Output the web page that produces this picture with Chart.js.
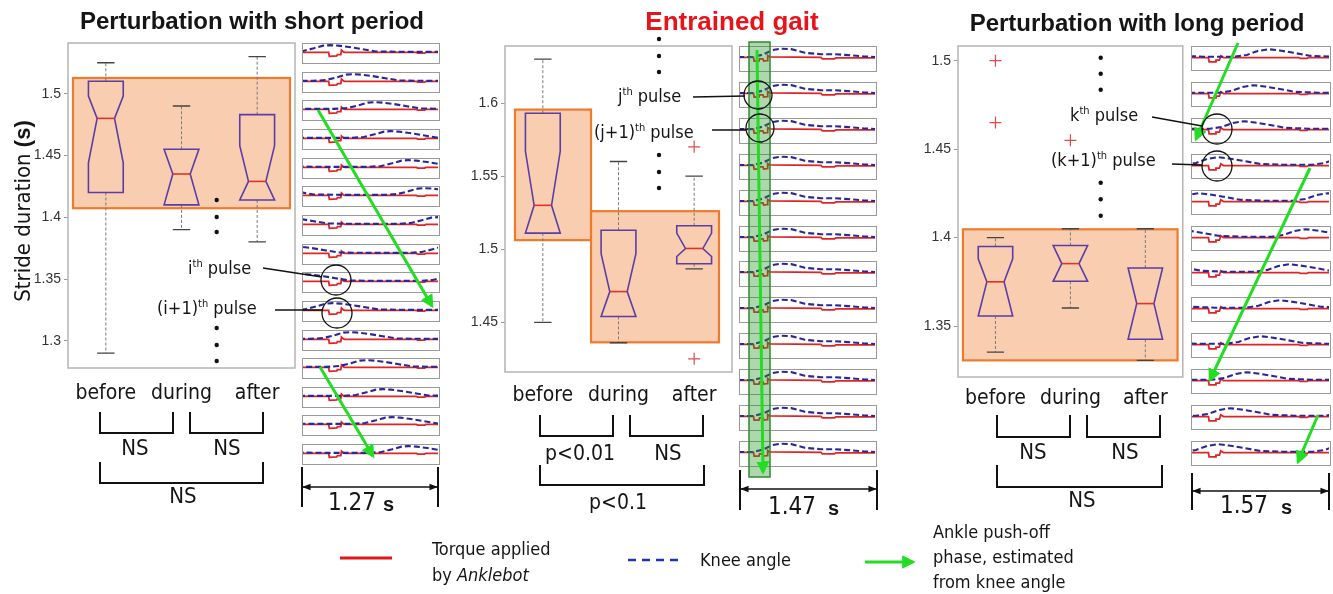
<!DOCTYPE html>
<html>
<head>
<meta charset="utf-8">
<script src="https://cdn.jsdelivr.net/npm/chart.js@4.4.1/dist/chart.umd.min.js"></script>
<style>
  body { margin: 0; width: 1333px; height: 594px; position: relative; overflow: hidden; background: #fff;
         font-family: "DejaVu Sans Condensed", "DejaVu Sans", sans-serif; color: #151515; }
  canvas.box { position: absolute; }
  .thumb { position: absolute; border: 1.5px solid #9a9a9a; box-sizing: border-box; background: #fff; }
  .thumb canvas { display: block; }
  .title { position: absolute; transform: translate(-50%, -50%); white-space: nowrap; line-height: 1;
           font-family: "Liberation Sans", Arial, sans-serif; font-weight: bold; font-size: 24px; }
  .c { position: absolute; transform: translate(-50%, -50%); white-space: nowrap; line-height: 1; font-size: 22px; }
  .l { position: absolute; transform: translateY(-50%); white-space: nowrap; line-height: 1; font-size: 18px; }
  .th { font-size: 11px; vertical-align: 7px; }
  .sb { font-size: 24px; }
  .bs { font-family: "Liberation Sans", Arial, sans-serif; font-weight: bold; font-size: 20px; }
  svg { position: absolute; left: 0; top: 0; }
</style>
</head>
<body>

<canvas class="box" id="boxShort" width="300" height="380" style="left:0;top:30px"></canvas>
<canvas class="box" id="boxEnt" width="300" height="380" style="left:440px;top:30px"></canvas>
<canvas class="box" id="boxLong" width="300" height="380" style="left:890px;top:30px"></canvas>
<div id="thumbs"></div>

<svg width="1333" height="594" viewBox="0 0 1333 594">
  <defs>
    <marker id="ga" viewBox="0 0 10 10" refX="8" refY="5" markerWidth="4.5" markerHeight="4.5" orient="auto">
      <path d="M0,0 L10,5 L0,10 z" fill="#22dd22"/>
    </marker>
    <marker id="ba" viewBox="0 0 10 10" refX="9" refY="5" markerWidth="6" markerHeight="6" orient="auto-start-reverse">
      <path d="M0,1 L10,5 L0,9 z" fill="#111"/>
    </marker>
  </defs>
  <!-- entrained column -->
  <rect x="749" y="42" width="21" height="435" fill="rgba(40,150,40,0.38)" stroke="#2e8b2e" stroke-width="1.5"/>

  <g stroke="#22dd22" stroke-width="3" fill="none" marker-end="url(#ga)">
    <line x1="318" y1="110" x2="432" y2="306"/>
    <line x1="320" y1="367" x2="373" y2="456"/>
    <line x1="757" y1="50" x2="763" y2="472"/>
    <line x1="1238" y1="43" x2="1196" y2="139"/>
    <line x1="1310" y1="168" x2="1210" y2="380"/>
    <line x1="1318" y1="415" x2="1298" y2="462"/>
    <line x1="865" y1="562" x2="913" y2="562"/>
  </g>

  <g stroke="#111" stroke-width="1.3" fill="none">
    <circle cx="336" cy="280" r="15"/><circle cx="337" cy="313" r="15"/>
    <circle cx="758" cy="95" r="14"/><circle cx="760" cy="128" r="14"/>
    <circle cx="1217" cy="129" r="15"/><circle cx="1217" cy="166" r="15"/>
    <line x1="263" y1="268" x2="322" y2="277"/><line x1="275" y1="310" x2="322" y2="310"/>
    <line x1="693" y1="97" x2="745" y2="96"/><line x1="712" y1="130" x2="746" y2="130"/>
    <line x1="1152" y1="117" x2="1202" y2="126"/><line x1="1172" y1="164" x2="1202" y2="165"/>
  </g>

  <g fill="#111">
    <circle cx="216.7" cy="200" r="2.2"/><circle cx="216.7" cy="217" r="2.2"/><circle cx="216.7" cy="232" r="2.2"/>
    <circle cx="216.7" cy="328" r="2.2"/><circle cx="216.7" cy="345" r="2.2"/><circle cx="216.7" cy="361" r="2.2"/>
    <circle cx="659" cy="39" r="2.2"/><circle cx="659" cy="56" r="2.2"/><circle cx="659" cy="72" r="2.2"/>
    <circle cx="659" cy="155" r="2.2"/><circle cx="659" cy="172" r="2.2"/><circle cx="659" cy="188" r="2.2"/>
    <circle cx="1100.7" cy="57.7" r="2.2"/><circle cx="1100.7" cy="73.7" r="2.2"/><circle cx="1100.7" cy="89.7" r="2.2"/>
    <circle cx="1100.7" cy="182.7" r="2.2"/><circle cx="1100.7" cy="199.3" r="2.2"/><circle cx="1100.7" cy="215.7" r="2.2"/>
  </g>

  <g stroke="#111" stroke-width="2" fill="none">
    <polyline points="100,412 100,433 173,433 173,412"/>
    <polyline points="190,412 190,433 263,433 263,412"/>
    <polyline points="100,462 100,483 263,483 263,462"/>
    <polyline points="540,415 540,436 613,436 613,415"/>
    <polyline points="630,415 630,436 703,436 703,415"/>
    <polyline points="540,465 540,485 704,485 704,465"/>
    <polyline points="997,415 997,437 1070,437 1070,415"/>
    <polyline points="1087,415 1087,437 1160,437 1160,415"/>
    <polyline points="997,465 997,487 1162,487 1162,465"/>
    <line x1="302" y1="467" x2="302" y2="507"/><line x1="438" y1="467" x2="438" y2="507"/>
    <line x1="740" y1="470" x2="740" y2="510"/><line x1="877" y1="470" x2="877" y2="510"/>
    <line x1="1192" y1="473" x2="1192" y2="510"/><line x1="1329" y1="473" x2="1329" y2="510"/>
  </g>
  <g stroke="#111" stroke-width="1.4" marker-start="url(#ba)" marker-end="url(#ba)">
    <line x1="303" y1="487" x2="437" y2="487"/>
    <line x1="741" y1="489" x2="876" y2="489"/>
    <line x1="1193" y1="491" x2="1328" y2="491"/>
  </g>

  <line x1="340" y1="558" x2="392" y2="558" stroke="#e01818" stroke-width="3"/>
  <line x1="628" y1="560" x2="680" y2="560" stroke="#2030c0" stroke-width="2.5" stroke-dasharray="8,6"/>
</svg>

<div class="title" style="left:252px;top:21px">Perturbation with short period</div>
<div class="title" style="left:732px;top:21px;color:#e8141c;font-size:26px">Entrained gait</div>
<div class="title" style="left:1137px;top:23px">Perturbation with long period</div>

<div class="c" style="left:23px;top:211px;transform:translate(-50%,-50%) rotate(-90deg)">Stride duration <b style="font-family:'Liberation Sans',Arial,sans-serif">(s)</b></div>

<div class="l" style="left:188px;top:267px">i<span class="th">th</span> pulse</div>
<div class="l" style="left:157px;top:307px">(i+1)<span class="th">th</span> pulse</div>
<div class="l" style="left:618px;top:95px">j<span class="th">th</span> pulse</div>
<div class="l" style="left:594px;top:131px">(j+1)<span class="th">th</span> pulse</div>
<div class="l" style="left:1070px;top:114px">k<span class="th">th</span> pulse</div>
<div class="l" style="left:1051px;top:159px">(k+1)<span class="th">th</span> pulse</div>

<div class="c" style="left:135px;top:448px">NS</div>
<div class="c" style="left:227px;top:448px">NS</div>
<div class="c" style="left:183px;top:496px">NS</div>
<div class="c" style="left:580px;top:453px;font-size:21px">p&lt;0.01</div>
<div class="c" style="left:668px;top:453px">NS</div>
<div class="c" style="left:618px;top:502px;font-size:21px">p&lt;0.1</div>
<div class="c" style="left:1033px;top:452px">NS</div>
<div class="c" style="left:1125px;top:452px">NS</div>
<div class="c" style="left:1082px;top:500px">NS</div>

<div class="l sb" style="left:328px;top:502px">1.27</div><div class="l bs" style="left:383px;top:504px">s</div>
<div class="l sb" style="left:768px;top:506px">1.47</div><div class="l bs" style="left:828px;top:508px">s</div>
<div class="l sb" style="left:1220px;top:505px">1.57</div><div class="l bs" style="left:1281px;top:507px">s</div>

<div class="l" style="left:432px;top:549px">Torque applied</div>
<div class="l" style="left:432px;top:575px">by <i>Anklebot</i></div>
<div class="l" style="left:700px;top:560px">Knee angle</div>
<div class="l" style="left:933px;top:532px">Ankle push-off</div>
<div class="l" style="left:933px;top:557px">phase, estimated</div>
<div class="l" style="left:933px;top:582px">from knee angle</div>

<script>
const categories = ['before', 'during', 'after'];

// stride duration (s), perturbation with short period
const shortTicks = [1.3, 1.35, 1.4, 1.45, 1.5];
const shortWhiskHi = [1.525, 1.49, 1.53];
const shortQ3 = [1.51, 1.455, 1.483];
const shortNotchHi = [1.498, 1.46, 1.458];
const shortMedian = [1.48, 1.435, 1.429];
const shortNotchLo = [1.444, 1.40, 1.40];
const shortQ1 = [1.42, 1.41, 1.414];
const shortWhiskLo = [1.29, 1.39, 1.38];
const shortOutCat = [];
const shortOutVal = [];

// entrained gait
const entTicks = [1.45, 1.5, 1.55, 1.6];
const entWhiskHi = [1.63, 1.56, 1.55];
const entQ3 = [1.593, 1.513, 1.516];
const entNotchHi = [1.567, 1.497, 1.511];
const entMedian = [1.53, 1.471, 1.5005];
const entNotchLo = [1.49, 1.44, 1.495];
const entQ1 = [1.511, 1.454, 1.49];
const entWhiskLo = [1.45, 1.436, 1.4866];
const entOutCat = [3, 3];
const entOutVal = [1.57, 1.425];

// perturbation with long period
const longTicks = [1.35, 1.4, 1.45, 1.5];
const longWhiskHi = [1.4, 1.405, 1.405];
const longQ3 = [1.395, 1.3955, 1.3828];
const longNotchHi = [1.388, 1.40, 1.40];
const longMedian = [1.375, 1.3853, 1.3627];
const longNotchLo = [1.35, 1.37, 1.34];
const longQ1 = [1.3557, 1.3753, 1.3425];
const longWhiskLo = [1.3353, 1.3602, 1.3306];
const longOutCat = [1, 1, 2];
const longOutVal = [1.5, 1.465, 1.455];

// knee angle hump (offset from peak, in thumbnail widths) and torque trace, per panel
const kneeDxShort = [-0.58, -0.3, -0.2, -0.12, -0.05, 0, 0.06, 0.14, 0.24, 0.34, 0.58];
const kneeYShort = [0.5, 0.5, 1.5, 4.5, 7.5, 8, 7.5, 6, 3.5, 1, 0.5];
const kneePeakShort = [0.2, 0.37, 0.53, 0.65, 0.78, 0.9, 1.0, 1.08, 0.0, 0.22, 0.35, 0.47, 0.59, 0.66, 0.78];
const torqueXShort = [0, 0.19, 0.195, 0.25, 0.255, 0.28, 0.285, 0.3, 0.31, 0.84, 0.85, 0.9, 0.91, 1];
const torqueYShort = [0, 0, -4.5, -4, -2.5, -2.5, 2.5, 0.5, 0, 0, -0.8, -0.8, 0, 0];

const kneeDxEnt = [-0.3, -0.2, -0.13, -0.06, 0, 0.08, 0.18, 0.3, 0.4, 0.5, 0.62, 0.7];
const kneeYEnt = [0.5, 0.5, 3, 8, 9.5, 9, 5, 3.5, 3.5, 2.5, 1, 0.5];
const kneePeakEnt = [0.3, 0.3, 0.3, 0.3, 0.3, 0.3, 0.3, 0.3, 0.3, 0.3, 0.3, 0.3];
const torqueXEnt = [0, 0.1, 0.105, 0.14, 0.145, 0.17, 0.175, 0.2, 0.205, 0.22, 0.6, 0.61, 0.7, 0.71, 1];
const torqueYEnt = [0, 0, -4, -4, -1.5, -1.5, -4, -3.5, 2, 0.5, 0, -1.5, -1.5, -0.5, -0.5];

const kneeDxLong = [-0.47, -0.25, -0.16, -0.08, 0, 0.08, 0.18, 0.3, 0.47];
const kneeYLong = [1, 1, 3, 7.5, 9.5, 8, 5.5, 2, 1];
const kneePeakLong = [0.56, 0.45, 0.38, 0.19, 0.05, 0.83, 0.71, 0.64, 0.5, 0.4, 0.28, 0.19];
const torqueXLong = [0, 0.12, 0.125, 0.17, 0.175, 0.2, 0.21, 0.23, 0.78, 0.79, 0.84, 0.85, 1];
const torqueYLong = [0, 0, -5, -5, -3, -3, 2, 0, 0, -1, -1, 0, 0];

const LABEL_FONT = '"DejaVu Sans Condensed", "DejaVu Sans", sans-serif';

function boxPlugin(s) {
  return {
    id: 'notchedBoxes',
    beforeDatasetsDraw(chart) {
      const { ctx, chartArea: a } = chart;
      const xs = chart.scales.x, ys = chart.scales.y;
      ctx.save();
      // highlighted groups
      s.highlight.forEach(h => {
        const x0 = xs.getPixelForValue(h[0]), x1 = xs.getPixelForValue(h[1]);
        const y0 = ys.getPixelForValue(h[3]), y1 = ys.getPixelForValue(h[2]);
        ctx.fillStyle = '#f9cdb0';
        ctx.fillRect(x0, y0, x1 - x0, y1 - y0);
        ctx.strokeStyle = '#ee7a2e';
        ctx.lineWidth = 2.2;
        ctx.strokeRect(x0, y0, x1 - x0, y1 - y0);
      });
      categories.forEach((c, i) => {
        const cx = xs.getPixelForValue(i + 1);
        const hw = xs.getPixelForValue(i + 1.23) - cx;
        const cw = hw * 0.5, nw = hw * 0.5;
        const py = v => ys.getPixelForValue(v);
        // whiskers
        ctx.strokeStyle = '#7a7a7a';
        ctx.lineWidth = 1;
        ctx.setLineDash([3, 2]);
        ctx.beginPath();
        ctx.moveTo(cx, py(s.q3[i])); ctx.lineTo(cx, py(s.whiskHi[i]));
        ctx.moveTo(cx, py(s.q1[i])); ctx.lineTo(cx, py(s.whiskLo[i]));
        ctx.stroke();
        ctx.setLineDash([]);
        ctx.strokeStyle = '#444';
        ctx.lineWidth = 1.3;
        ctx.beginPath();
        ctx.moveTo(cx - cw, py(s.whiskHi[i])); ctx.lineTo(cx + cw, py(s.whiskHi[i]));
        ctx.moveTo(cx - cw, py(s.whiskLo[i])); ctx.lineTo(cx + cw, py(s.whiskLo[i]));
        ctx.stroke();
        // notched box
        const nHi = Math.min(s.notchHi[i], s.q3[i]);
        const nLo = Math.max(s.notchLo[i], s.q1[i]);
        ctx.strokeStyle = '#5a3ea6';
        ctx.lineWidth = 1.6;
        ctx.beginPath();
        ctx.moveTo(cx - hw, py(s.q3[i]));
        ctx.lineTo(cx + hw, py(s.q3[i]));
        ctx.lineTo(cx + hw, py(nHi));
        ctx.lineTo(cx + nw, py(s.median[i]));
        ctx.lineTo(cx + hw, py(nLo));
        ctx.lineTo(cx + hw, py(s.q1[i]));
        ctx.lineTo(cx - hw, py(s.q1[i]));
        ctx.lineTo(cx - hw, py(nLo));
        ctx.lineTo(cx - nw, py(s.median[i]));
        ctx.lineTo(cx - hw, py(nHi));
        ctx.closePath();
        ctx.stroke();
        ctx.strokeStyle = '#e2302a';
        ctx.lineWidth = 1.6;
        ctx.beginPath();
        ctx.moveTo(cx - nw, py(s.median[i])); ctx.lineTo(cx + nw, py(s.median[i]));
        ctx.stroke();
      });
      // axes frame
      ctx.strokeStyle = '#b4b4b4';
      ctx.lineWidth = 1.5;
      ctx.strokeRect(a.left, a.top, a.right - a.left, a.bottom - a.top);
      ctx.restore();
    }
  };
}

function boxChart(id, s) {
  new Chart(document.getElementById(id), {
    type: 'scatter',
    data: {
      datasets: [{
        data: s.outCat.map((c, i) => ({ x: c, y: s.outVal[i] })),
        pointStyle: 'cross', pointRadius: 6, borderColor: '#e24a4a', borderWidth: 1.2
      }]
    },
    options: {
      responsive: false, animation: false, events: [],
      layout: { padding: { top: s.padTop, right: s.padRight, left: 0, bottom: 0 } },
      plugins: { legend: { display: false }, tooltip: { enabled: false } },
      scales: {
        x: {
          type: 'linear', min: 0.5, max: 3.5,
          grid: { display: false }, border: { display: false },
          afterBuildTicks: ax => { ax.ticks = categories.map((c, i) => ({ value: i + 1 })); },
          afterFit: ax => { ax.height = s.xH; },
          ticks: { callback: v => categories[v - 1], font: { family: LABEL_FONT, size: 21 }, color: '#151515',
                   padding: s.xPad, maxRotation: 0, autoSkip: false }
        },
        y: {
          min: s.min, max: s.max,
          afterBuildTicks: ax => { ax.ticks = s.ticks.map(v => ({ value: v })); },
          afterFit: ax => { ax.width = s.yW; },
          grid: { drawOnChartArea: false, tickLength: 4, color: '#999' },
          border: { display: false },
          ticks: { callback: v => String(+v.toFixed(2)), font: { family: '"Liberation Sans", Arial, sans-serif', size: 14 },
                   color: '#333', padding: 3 }
        }
      }
    },
    plugins: [boxPlugin(s)]
  });
}

boxChart('boxShort', {
  min: 1.278, max: 1.541, ticks: shortTicks, yW: 68, padTop: 13, padRight: 5, xH: 42, xPad: 5,
  whiskHi: shortWhiskHi, q3: shortQ3, notchHi: shortNotchHi, median: shortMedian, notchLo: shortNotchLo,
  q1: shortQ1, whiskLo: shortWhiskLo, outCat: shortOutCat, outVal: shortOutVal,
  highlight: [[0.566, 3.434, 1.4073, 1.5127]]
});
boxChart('boxEnt', {
  min: 1.416, max: 1.639, ticks: entTicks, yW: 65, padTop: 16, padRight: 8, xH: 38, xPad: 3,
  whiskHi: entWhiskHi, q3: entQ3, notchHi: entNotchHi, median: entMedian, notchLo: entNotchLo,
  q1: entQ1, whiskLo: entWhiskLo, outCat: entOutCat, outVal: entOutVal,
  highlight: [[0.632, 1.637, 1.5062, 1.5955], [1.637, 3.328, 1.4363, 1.526]]
});
boxChart('boxLong', {
  min: 1.3212, max: 1.5083, ticks: longTicks, yW: 68, padTop: 16, padRight: 4, xH: 33, xPad: 1,
  whiskHi: longWhiskHi, q3: longQ3, notchHi: longNotchHi, median: longMedian, notchLo: longNotchLo,
  q1: longQ1, whiskLo: longWhiskLo, outCat: longOutCat, outVal: longOutVal,
  highlight: [[0.566, 3.43, 1.3306, 1.4047]]
});

// small trace panels
function kneeTrace(peak, dx, y, cycle) {
  const pts = [];
  [-1, 0, 1].forEach(k => dx.forEach((d, i) => pts.push({ x: peak + d + k * cycle, y: y[i] })));
  return pts;
}

function thumbColumn(col) {
  const host = document.getElementById('thumbs');
  col.peaks.forEach((p, r) => {
    const div = document.createElement('div');
    div.className = 'thumb';
    div.style.left = col.left + 'px';
    div.style.top = (col.top + r * col.step) + 'px';
    div.style.width = col.w + 'px';
    div.style.height = col.h + 'px';
    const cv = document.createElement('canvas');
    cv.width = col.w - 3; cv.height = col.h - 3;
    div.appendChild(cv);
    host.appendChild(div);
    new Chart(cv, {
      type: 'line',
      data: {
        datasets: [
          { data: kneeTrace(p, col.kneeDx, col.kneeY, col.cycle), borderColor: '#28289a', borderWidth: 2.1,
            borderDash: [6, 3], pointRadius: 0 },
          { data: col.torqueX.map((x, i) => ({ x, y: col.torqueY[i] })), borderColor: '#e02424', borderWidth: 1.8,
            pointRadius: 0 }
        ]
      },
      options: {
        responsive: false, animation: false, events: [],
        layout: { padding: 0 },
        plugins: { legend: { display: false }, tooltip: { enabled: false } },
        scales: {
          x: { type: 'linear', display: false, min: 0, max: 1 },
          y: { display: false, min: col.yr[0], max: col.yr[1] }
        }
      }
    });
  });
}

thumbColumn({ left: 302, top: 43, step: 28.65, w: 138, h: 21, cycle: 1.16, yr: [-10.7, 9.3],
  peaks: kneePeakShort, kneeDx: kneeDxShort, kneeY: kneeYShort, torqueX: torqueXShort, torqueY: torqueYShort });
thumbColumn({ left: 739, top: 46, step: 35.9, w: 138, h: 26, cycle: 1.0, yr: [-13.7, 11.3],
  peaks: kneePeakEnt, kneeDx: kneeDxEnt, kneeY: kneeYEnt, torqueX: torqueXEnt, torqueY: torqueYEnt });
thumbColumn({ left: 1191, top: 46, step: 35.9, w: 140, h: 25, cycle: 0.94, yr: [-13, 12],
  peaks: kneePeakLong, kneeDx: kneeDxLong, kneeY: kneeYLong, torqueX: torqueXLong, torqueY: torqueYLong });
</script>
</body>
</html>
